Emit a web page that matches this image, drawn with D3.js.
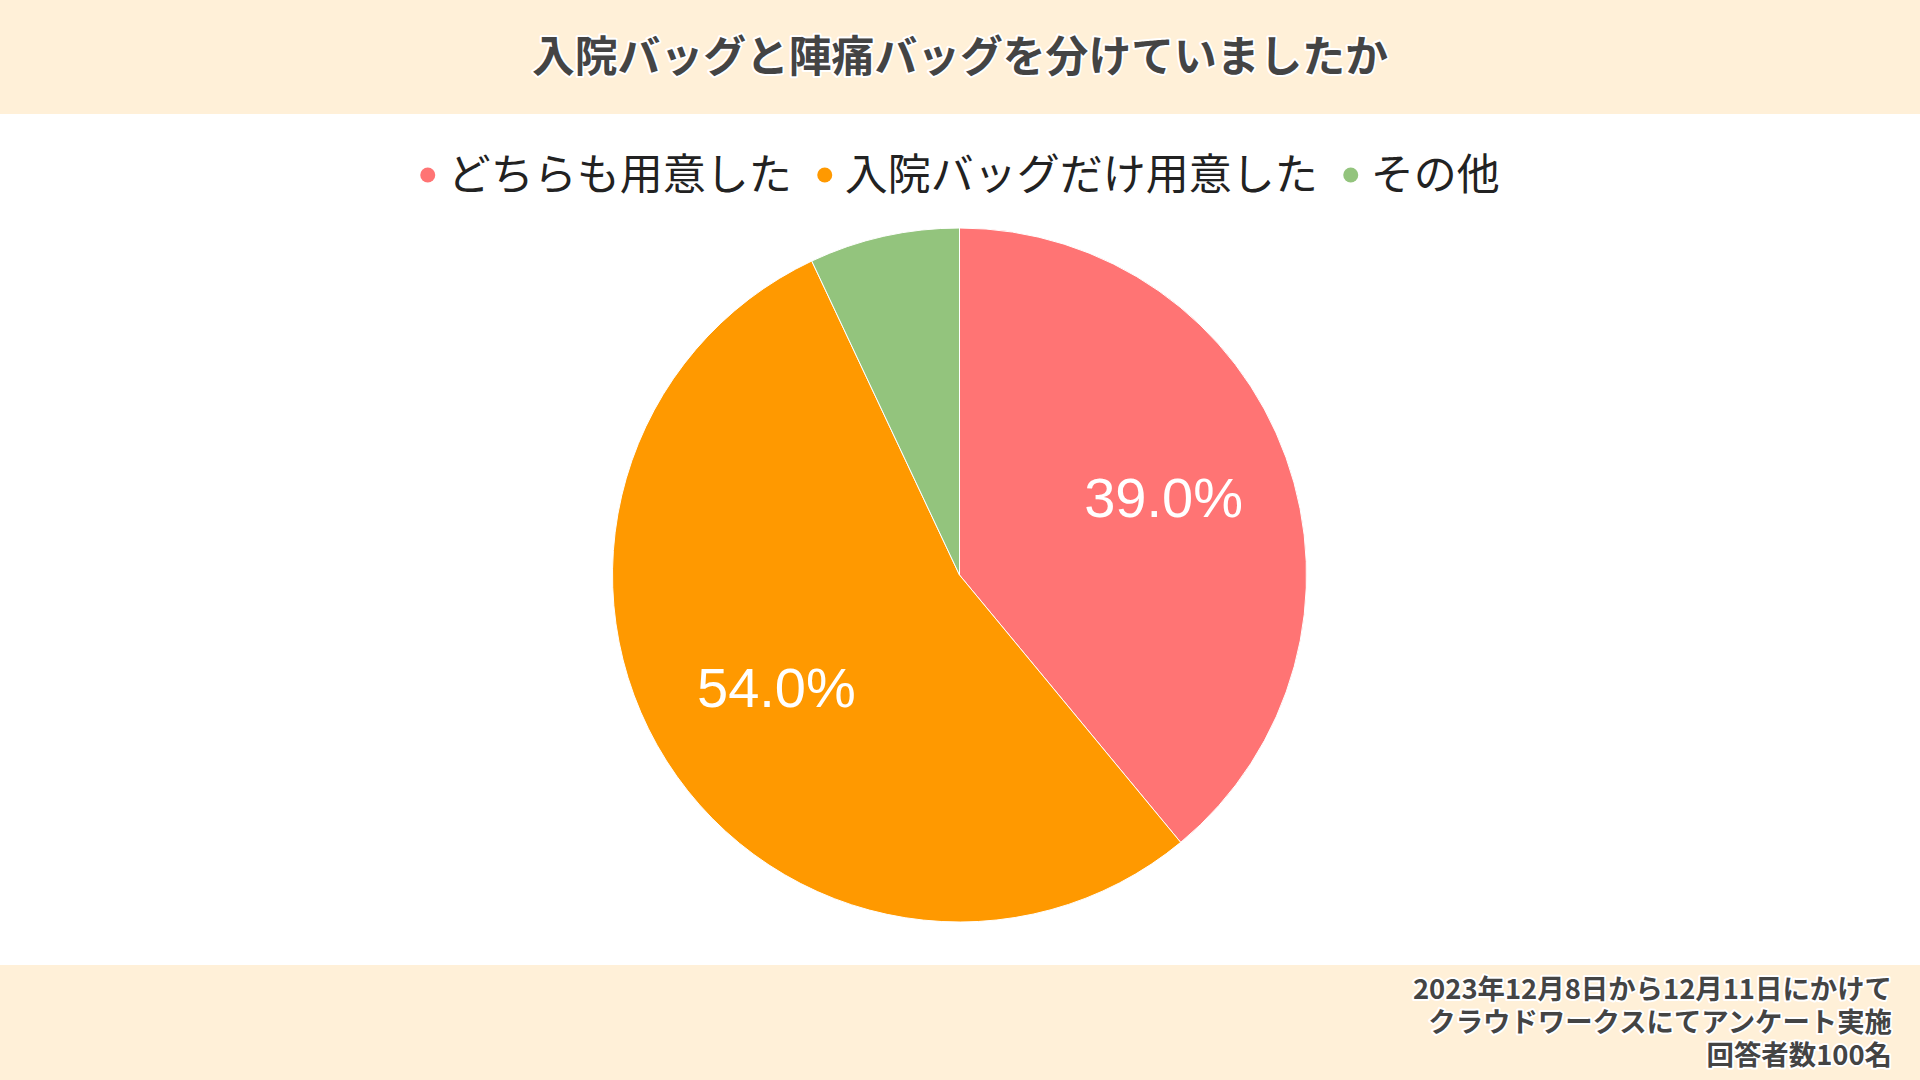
<!DOCTYPE html>
<html>
<head>
<meta charset="utf-8">
<script src="https://cdn.jsdelivr.net/npm/d3@7"></script>
<style>
  body { margin: 0; background: #fff; }
  svg { display: block; }
  .shadow { paint-order: stroke; stroke: #fff; stroke-width: 4px; stroke-linejoin: round; }
</style>
</head>
<body>
<div id="chart"></div>
<script>
// chart data
var titleText = "入院バッグと陣痛バッグを分けていましたか";
var categories = ["どちらも用意した", "入院バッグだけ用意した", "その他"];
var values = [39, 54, 7];
var colors = ["#ff7474", "#ff9900", "#93c47d"];
var footerLines = [
  "2023年12月8日から12月11日にかけて",
  "クラウドワークスにてアンケート実施",
  "回答者数100名"
];

var W = 1920, H = 1080;
var svg = d3.select("#chart").append("svg")
  .attr("width", W)
  .attr("height", H);

// header and footer bands
svg.append("rect").attr("x", 0).attr("y", 0).attr("width", W).attr("height", 114).attr("fill", "#fff0d8");
svg.append("rect").attr("x", 0).attr("y", 965).attr("width", W).attr("height", H - 965).attr("fill", "#fff0d8");

svg.append("text")
  .attr("class", "shadow")
  .attr("x", 960)
  .attr("y", 72)
  .attr("text-anchor", "middle")
  .attr("font-family", "'Noto Sans CJK JP'")
  .attr("font-weight", "bold")
  .attr("font-size", 42.8)
  .attr("fill", "#444")
  .text(titleText);

// footer note: one text block, a tspan per line
var foot = svg.append("text")
  .attr("class", "shadow")
  .attr("y", 999)
  .attr("text-anchor", "end")
  .attr("font-family", "'Noto Sans CJK JP'")
  .attr("font-weight", "bold")
  .attr("font-size", 27.4)
  .attr("fill", "#444");
foot.selectAll("tspan")
  .data(footerLines)
  .enter()
  .append("tspan")
  .attr("x", 1892)
  .attr("dy", (d, i) => (i === 0 ? 0 : 33))
  .text(d => d);

// pie
var cx = 959.5, cy = 575, r = 347;
var pie = d3.pie().sort(null).value(d => d);
var arcs = pie(values);
var arc = d3.arc().innerRadius(0).outerRadius(r);
var labelArc = d3.arc().innerRadius(r * 0.625).outerRadius(r * 0.625);
var total = d3.sum(values);

var g = svg.append("g").attr("transform", `translate(${cx},${cy})`);
g.selectAll("path")
  .data(arcs)
  .enter()
  .append("path")
  .attr("d", arc)
  .attr("fill", (d, i) => colors[i])
  .attr("stroke", "#fff")
  .attr("stroke-width", 1);

g.selectAll(".lbl")
  .data(arcs.filter(d => d.value / total > 0.1))
  .enter()
  .append("text")
  .attr("transform", d => `translate(${labelArc.centroid(d)})`)
  .attr("text-anchor", "middle")
  .attr("dy", "0.28em")
  .attr("font-family", "Arial, 'Liberation Sans'")
  .attr("font-size", 56)
  .attr("fill", "#fff")
  .text(d => (d.value / total * 100).toFixed(1) + "%");

// legend, centred
var legend = svg.append("g");
var x = 0;
categories.forEach(function (c, i) {
  var item = legend.append("g").attr("transform", `translate(${x},0)`);
  item.append("circle").attr("cx", 0).attr("cy", 0).attr("r", 7.5).attr("fill", colors[i]);
  var t = item.append("text")
    .attr("x", 20)
    .attr("dy", "0.35em")
    .attr("font-family", "'Noto Sans CJK JP'")
    .attr("font-size", 43)
    .attr("fill", "#222")
    .text(c);
  x += 20 + t.node().getComputedTextLength() + 33;
});
var lw = x - 33 + 7.5;
legend.attr("transform", `translate(${960 - lw / 2 + 7.5},175)`);
</script>
</body>
</html>
